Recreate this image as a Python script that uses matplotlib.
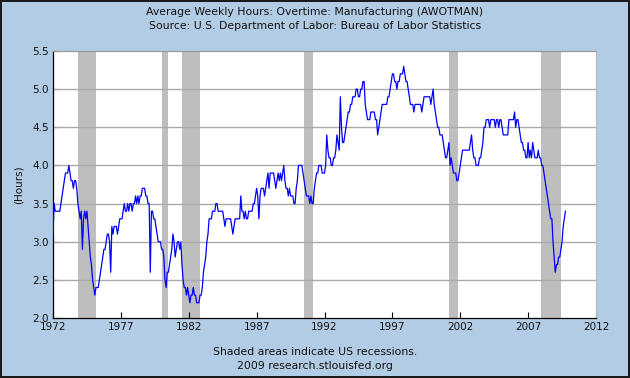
import matplotlib
matplotlib.use("Agg")
import matplotlib.pyplot as plt
import numpy as np

# ---------------- data (monthly, starting Jan 1972) ----------------
start_year = 1972
hours_1970s = [
    3.1, 3.5, 3.4, 3.4, 3.4, 3.4, 3.4, 3.5, 3.6, 3.7, 3.8, 3.9,   # 1972
    3.9, 3.9, 4.0, 3.9, 3.8, 3.8, 3.7, 3.8, 3.8, 3.7, 3.5, 3.4,   # 1973
    3.3, 3.4, 2.9, 3.3, 3.4, 3.3, 3.4, 3.2, 3.0, 2.8, 2.7, 2.5,   # 1974
    2.4, 2.3, 2.4, 2.4, 2.4, 2.5, 2.6, 2.7, 2.8, 2.9, 2.9, 3.0,   # 1975
    3.1, 3.1, 3.0, 2.6, 3.2, 3.1, 3.2, 3.2, 3.2, 3.1, 3.2, 3.3,   # 1976
    3.3, 3.3, 3.4, 3.5, 3.4, 3.4, 3.5, 3.4, 3.5, 3.5, 3.4, 3.5,   # 1977
    3.5, 3.6, 3.5, 3.6, 3.5, 3.6, 3.6, 3.7, 3.7, 3.7, 3.6, 3.6,   # 1978
    3.5, 3.5, 2.6, 3.4, 3.4, 3.3, 3.3, 3.2, 3.1, 3.0, 3.0, 3.0,   # 1979
]
hours_1980s = [
    2.9, 2.9, 2.8, 2.5, 2.4, 2.6, 2.6, 2.7, 2.8, 2.9, 3.1, 3.0,   # 1980
    2.8, 2.9, 3.0, 3.0, 2.9, 3.0, 2.7, 2.5, 2.4, 2.4, 2.3, 2.4,   # 1981
    2.3, 2.2, 2.3, 2.3, 2.4, 2.3, 2.3, 2.2, 2.2, 2.2, 2.3, 2.3,   # 1982
    2.4, 2.6, 2.7, 2.8, 3.0, 3.1, 3.3, 3.3, 3.3, 3.4, 3.4, 3.4,   # 1983
    3.5, 3.5, 3.4, 3.4, 3.4, 3.4, 3.4, 3.3, 3.2, 3.3, 3.3, 3.3,   # 1984
    3.3, 3.3, 3.2, 3.1, 3.2, 3.3, 3.3, 3.3, 3.3, 3.3, 3.6, 3.4,   # 1985
    3.4, 3.3, 3.4, 3.3, 3.3, 3.4, 3.4, 3.4, 3.4, 3.5, 3.5, 3.6,   # 1986
    3.7, 3.6, 3.3, 3.6, 3.7, 3.7, 3.7, 3.6, 3.7, 3.8, 3.9, 3.7,   # 1987
    3.9, 3.9, 3.9, 3.9, 3.8, 3.7, 3.8, 3.9, 3.8, 3.9, 3.8, 3.9,   # 1988
    4.0, 3.8, 3.7, 3.7, 3.6, 3.7, 3.6, 3.6, 3.6, 3.5, 3.5, 3.7,   # 1989
]
hours_1990s = [
    3.8, 4.0, 4.0, 4.0, 4.0, 3.9, 3.8, 3.7, 3.6, 3.6, 3.6, 3.5,   # 1990
    3.6, 3.5, 3.5, 3.7, 3.8, 3.9, 3.9, 4.0, 4.0, 4.0, 3.9, 3.9,   # 1991
    3.9, 4.0, 4.4, 4.2, 4.1, 4.1, 4.0, 4.0, 4.1, 4.1, 4.2, 4.4,   # 1992
    4.3, 4.2, 4.9, 4.5, 4.3, 4.3, 4.4, 4.5, 4.6, 4.7, 4.7, 4.8,   # 1993
    4.8, 4.9, 4.9, 4.9, 5.0, 5.0, 4.9, 4.9, 5.0, 5.0, 5.1, 5.1,   # 1994
    4.8, 4.7, 4.6, 4.6, 4.6, 4.7, 4.7, 4.7, 4.7, 4.6, 4.6, 4.4,   # 1995
    4.5, 4.6, 4.7, 4.8, 4.8, 4.8, 4.8, 4.8, 4.9, 4.9, 5.0, 5.1,   # 1996
    5.2, 5.2, 5.1, 5.1, 5.0, 5.1, 5.1, 5.2, 5.2, 5.2, 5.3, 5.2,   # 1997
    5.1, 5.1, 5.0, 4.9, 4.8, 4.8, 4.8, 4.7, 4.8, 4.8, 4.8, 4.8,   # 1998
    4.8, 4.8, 4.7, 4.8, 4.9, 4.9, 4.9, 4.9, 4.9, 4.9, 4.8, 4.9,   # 1999
]
hours_2000s = [
    5.0, 4.8, 4.7, 4.6, 4.5, 4.5, 4.4, 4.4, 4.4, 4.3, 4.2, 4.1,   # 2000
    4.1, 4.2, 4.3, 4.0, 4.1, 4.0, 3.9, 3.9, 3.9, 3.8, 3.8, 3.9,   # 2001
    4.0, 4.1, 4.2, 4.2, 4.2, 4.2, 4.2, 4.2, 4.2, 4.3, 4.4, 4.2,   # 2002
    4.1, 4.1, 4.0, 4.0, 4.0, 4.1, 4.1, 4.2, 4.3, 4.5, 4.5, 4.6,   # 2003
    4.6, 4.6, 4.5, 4.6, 4.6, 4.6, 4.6, 4.5, 4.6, 4.6, 4.5, 4.6,   # 2004
    4.6, 4.5, 4.4, 4.4, 4.4, 4.4, 4.4, 4.6, 4.6, 4.6, 4.6, 4.6,   # 2005
    4.7, 4.5, 4.6, 4.6, 4.5, 4.4, 4.3, 4.3, 4.2, 4.2, 4.1, 4.1,   # 2006
    4.3, 4.1, 4.2, 4.1, 4.3, 4.2, 4.1, 4.1, 4.1, 4.2, 4.1, 4.1,   # 2007
    4.0, 4.0, 3.9, 3.8, 3.7, 3.6, 3.5, 3.4, 3.3, 3.3, 3.0, 2.8,   # 2008
    2.6, 2.7, 2.7, 2.8, 2.8, 2.9, 3.0, 3.2, 3.3, 3.4,             # 2009
]

# NBER recessions (peak month start, trough month start), decimal years
recession_starts = [1973 + 10/12, 1980.0, 1981 + 6/12, 1990 + 6/12, 2001 + 2/12, 2007 + 11/12]
recession_ends   = [1975 + 2/12, 1980 + 6/12, 1982 + 10/12, 1991 + 2/12, 2001 + 10/12, 2009 + 5/12]

x_ticks = [1972, 1977, 1982, 1987, 1992, 1997, 2002, 2007, 2012]
y_ticks = [2.0, 2.5, 3.0, 3.5, 4.0, 4.5, 5.0, 5.5]

title_line1 = "Average Weekly Hours: Overtime: Manufacturing (AWOTMAN)"
title_line2 = "Source: U.S. Department of Labor: Bureau of Labor Statistics"
y_label = "(Hours)"
note_line1 = "Shaded areas indicate US recessions."
note_line2 = "2009 research.stlouisfed.org"

# ---------------- plot ----------------
hours = np.array(hours_1970s + hours_1980s + hours_1990s + hours_2000s)
dates = start_year + np.arange(len(hours)) / 12.0

plt.rcParams['font.family'] = ['DejaVu Sans']
bg = '#B3CCE5'
W, H = 630, 378
fig = plt.figure(figsize=(W / 100, H / 100), dpi=100, facecolor=bg)
fig.patch.set_edgecolor('#1a1a1a')
fig.patch.set_linewidth(1.5)

left, right, top, bottom = 53, 596, 51, 318
ax = fig.add_axes([left / W, 1 - bottom / H, (right - left) / W, (bottom - top) / H])
ax.set_facecolor('white')

for s, e in zip(recession_starts, recession_ends):
    ax.axvspan(s, e, color='#BEBEBE', lw=0, zorder=1)

for yv in y_ticks[1:-1]:
    ax.axhline(yv, color='#AAAAAA', lw=1.0, zorder=2)

ax.plot(dates, hours, color='#0000FF', lw=0.9, zorder=3)

ax.set_xlim(1972, 2012)
ax.set_ylim(2.0, 5.5)
ax.set_xticks(x_ticks)
ax.set_xticklabels([str(t) for t in x_ticks])
ax.set_yticks(y_ticks)
ax.set_yticklabels([f"{t:.1f}" for t in y_ticks])
ax.tick_params(axis='both', direction='in', length=4, width=0.8, color='black',
               labelsize=7.5, labelcolor='#111111')
ax.tick_params(axis='x', pad=3)
ax.tick_params(axis='y', pad=3)

ax.spines['left'].set_color('black')
ax.spines['bottom'].set_color('black')
ax.spines['top'].set_color('#999999')
ax.spines['right'].set_color('#BBBBBB')
for sp in ax.spines.values():
    sp.set_linewidth(0.9)

ax.set_ylabel(y_label, fontsize=7.5, color='#111111', labelpad=6)

fig.text(0.5, 1 - 12 / H, title_line1, ha='center', va='center', fontsize=7.8, color='#111111')
fig.text(0.5, 1 - 26 / H, title_line2, ha='center', va='center', fontsize=7.8, color='#111111')
fig.text(0.5, 1 - 352 / H, note_line1, ha='center', va='center', fontsize=7.8, color='#111111')
fig.text(0.5, 1 - 366 / H, note_line2, ha='center', va='center', fontsize=7.8, color='#111111')

fig.savefig('out.png', dpi=100, facecolor=fig.get_facecolor(), edgecolor=fig.get_edgecolor())
